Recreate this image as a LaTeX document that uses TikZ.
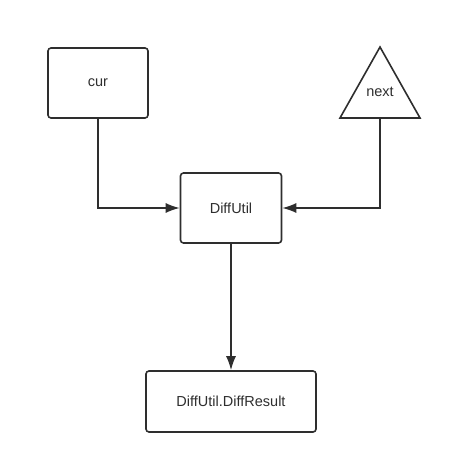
\documentclass[tikz,border=0pt]{standalone}
\usepackage{fontspec}
\setmainfont{Liberation Sans}
\usetikzlibrary{arrows.meta}
\definecolor{ink}{HTML}{2E2E2E}
\tikzset{
  label/.style={text=ink,font=\fontsize{14.5}{17}\selectfont},
  box/.style={label,draw=ink,line width=1.6pt,rounded corners=3pt},
  flow/.style={draw=ink,line width=1.5pt,-{Latex[length=14pt,width=10pt]}}
}
\begin{document}
\begin{tikzpicture}[x=1pt,y=-1pt]
  \useasboundingbox (0,0) rectangle (452,465);
  % the two inputs
  \node[box,minimum width=100pt,minimum height=70pt] (cur) at (98,83) {cur};
  \draw[ink,line width=1.6pt,line join=miter] (380,47) -- (420,118) -- (340,118) -- cycle;
  \coordinate (nextbase) at (380,118);
  \node[label] (next) at (380,92) {next};
  % comparison step and its result
  \node[box,minimum width=101pt,minimum height=70pt] (diff) at (231,208) {DiffUtil};
  \node[box,minimum width=170pt,minimum height=61pt] (result) at (231,401.5) {DiffUtil.DiffResult};
  % connectors
  \draw[flow] (cur.south) |- (diff.west);
  \draw[flow] (nextbase) |- (diff.east);
  \draw[flow] (diff.south) -- (result.north);
\end{tikzpicture}
\end{document}
